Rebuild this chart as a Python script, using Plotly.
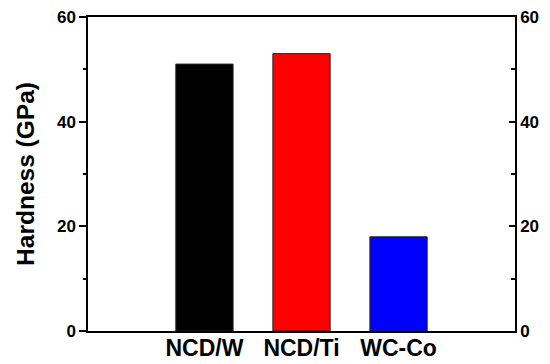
import plotly.graph_objects as go

# Hardness of the coatings and the substrate
samples = ["NCD/W", "NCD/Ti", "WC-Co"]
hardness = [51, 53, 18]
bar_colors = ["#000000", "#ff0000", "#0000ff"]
y_ticks = [0, 20, 40, 60]

positions = list(range(len(samples)))
font_family = "Liberation Sans, Arial, sans-serif"

fig = go.Figure()
fig.add_trace(go.Bar(
    x=positions, y=hardness,
    marker=dict(color=bar_colors, line=dict(color="#222222", width=1)),
    width=0.59, showlegend=False, hoverinfo="x+y",
))
# anchor trace for the right-hand axis (inward ticks)
fig.add_trace(go.Scatter(
    x=positions, y=hardness, yaxis="y2", mode="markers",
    marker=dict(opacity=0), showlegend=False, hoverinfo="skip",
))

axis_font = dict(family=font_family, size=17, color="black")

fig.update_layout(
    width=550, height=364,
    margin=dict(l=88, r=35, t=17, b=33),
    plot_bgcolor="white", paper_bgcolor="white",
    font=dict(family=font_family, color="black"),
    xaxis=dict(
        range=[-1.2, 3.2], automargin=False,
        tickvals=positions, ticktext=[f"<b>{s}</b>" for s in samples],
        tickfont=dict(family=font_family, size=23, color="black"),
        ticklabelstandoff=-4,
        ticks="", showline=True, linecolor="black", linewidth=1.5,
        mirror=True, showgrid=False, zeroline=False,
    ),
    yaxis=dict(
        range=[0, 60], tickvals=y_ticks, automargin=False,
        ticktext=[f"<b>{v}</b>" for v in y_ticks],
        tickfont=axis_font,
        ticks="outside", ticklen=7, tickwidth=1.5, tickcolor="black",
        minor=dict(dtick=10, ticks="outside", ticklen=3, tickwidth=1.5, tickcolor="black"),
        showline=True, linecolor="black", linewidth=1.5,
        showgrid=False, zeroline=False,
        title=dict(text="<b>Hardness (GPa)</b>", font=dict(family=font_family, size=24.5, color="black"), standoff=15),
    ),
    yaxis2=dict(
        range=[0, 60], overlaying="y", side="right", tickvals=y_ticks,
        automargin=False,
        ticktext=[f"<b>{v}</b>" for v in y_ticks],
        tickfont=axis_font,
        ticks="inside", ticklen=6, tickwidth=1.5, tickcolor="black",
        minor=dict(dtick=10, ticks="inside", ticklen=4, tickwidth=1.5, tickcolor="black"),
        showline=True, linecolor="black", linewidth=1.5,
        showgrid=False, zeroline=False,
    ),
)

fig.write_html("out.html")
